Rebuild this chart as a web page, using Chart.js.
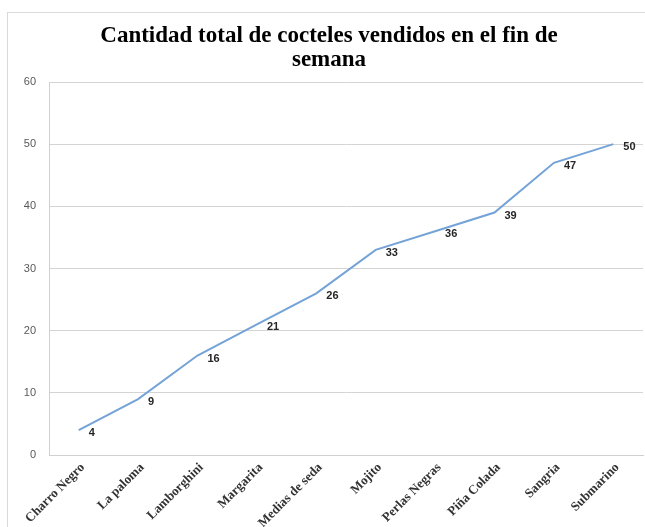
<!DOCTYPE html>
<html>
<head>
<meta charset="utf-8">
<script src="https://cdn.jsdelivr.net/npm/chart.js@4/dist/chart.umd.min.js"></script>
<style>
  html, body { margin: 0; padding: 0; background: #ffffff; }
  #wrap { position: relative; width: 645px; height: 527px; overflow: hidden; }
  #frame { position: absolute; left: 7px; top: 12px; width: 700px; height: 600px;
           border-left: 1px solid #d9d9d9; border-top: 1px solid #d9d9d9; pointer-events: none; }
  canvas { position: absolute; left: 0; top: 0; }
</style>
</head>
<body>
<div id="wrap">
  <canvas id="chart" width="645" height="527"></canvas>
  <div id="frame"></div>
</div>
<script>
// Cócteles y cantidades vendidas
const categories = ['Charro Negro', 'La paloma', 'Lamborghini', 'Margarita', 'Medias de seda',
                    'Mojito', 'Perlas Negras', 'Piña Colada', 'Sangria', 'Submarino'];
const cantidades = [4, 9, 16, 21, 26, 33, 36, 39, 47, 50];
const titleLines = ['Cantidad total de cocteles vendidos en el fin de', 'semana'];
const yMin = 0, yMax = 60, yStep = 10;

// Etiquetas de valor a la derecha de cada punto
const valueLabels = {
  id: 'valueLabels',
  afterDatasetsDraw(chart) {
    const ctx = chart.ctx;
    const meta = chart.getDatasetMeta(0);
    const values = chart.data.datasets[0].data;
    ctx.save();
    ctx.font = 'bold 11px "Liberation Sans", Arial, sans-serif';
    ctx.fillStyle = '#262626';
    ctx.textAlign = 'left';
    ctx.textBaseline = 'middle';
    meta.data.forEach((pt, i) => {
      ctx.fillText(String(values[i]), pt.x + 10, pt.y + 3);
    });
    ctx.restore();
  }
};

new Chart(document.getElementById('chart'), {
  type: 'line',
  data: {
    labels: categories,
    datasets: [{
      data: cantidades,
      borderColor: '#74a3d8',
      borderWidth: 2,
      pointRadius: 0,
      pointHoverRadius: 0,
      tension: 0,
      fill: false
    }]
  },
  options: {
    responsive: false,
    animation: false,
    layout: { padding: { left: 15, right: 2, top: 0, bottom: 0 } },
    plugins: {
      legend: { display: false },
      tooltip: { enabled: false },
      title: {
        display: true,
        text: titleLines,
        color: '#000000',
        font: { family: '"Liberation Serif", "Times New Roman", serif', size: 23, weight: 'bold', lineHeight: 1.05 },
        padding: { top: 24, bottom: 9.7 }
      }
    },
    scales: {
      x: {
        offset: true,
        grid: { display: false },
        border: { display: true, color: '#d0d0d0', width: 1 },
        ticks: {
          minRotation: 45,
          maxRotation: 45,
          autoSkip: false,
          padding: -3,
          labelOffset: 4,
          color: '#333333',
          font: { family: '"Liberation Serif", "Times New Roman", serif', size: 13, weight: 'bold' }
        },
        afterFit(scale) { scale.height = 72; }
      },
      y: {
        min: yMin,
        max: yMax,
        ticks: {
          stepSize: yStep,
          padding: 13,
          color: '#595959',
          font: { family: '"Liberation Sans", Arial, sans-serif', size: 11 }
        },
        grid: { color: '#d4d4d4', lineWidth: 1, drawTicks: false },
        border: { display: true, color: '#d0d0d0', width: 1 },
        afterFit(scale) { scale.width = 34; }
      }
    }
  },
  plugins: [valueLabels]
});
</script>
</body>
</html>
